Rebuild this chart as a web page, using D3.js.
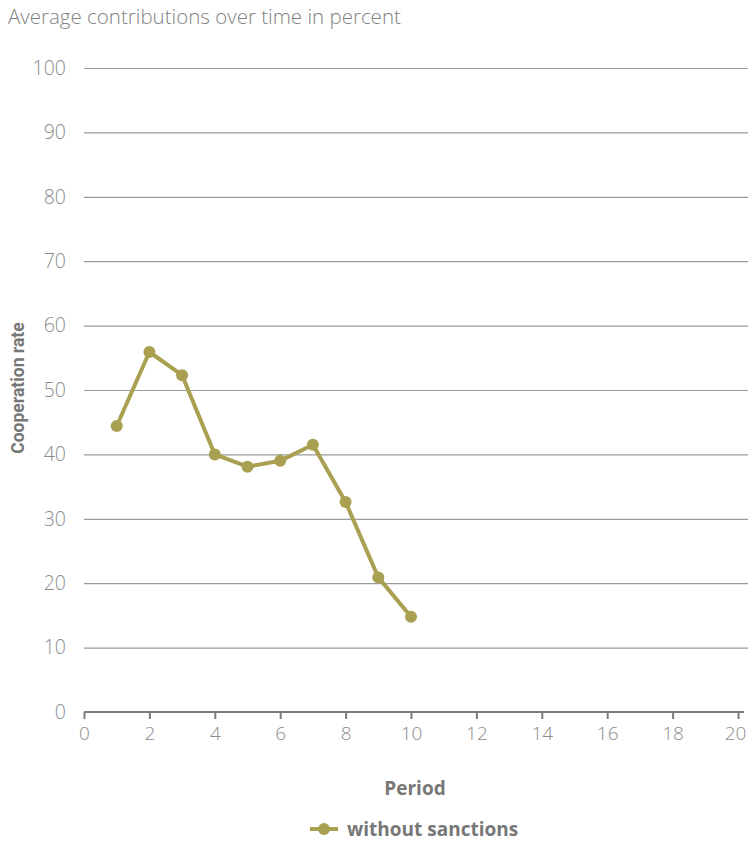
<!DOCTYPE html>
<html>
<head>
<meta charset="utf-8">
<script src="https://cdn.jsdelivr.net/npm/d3@7"></script>
<style>
  html, body { margin: 0; padding: 0; background: #fff; }
  svg { display: block; font-family: "Open Sans", "Noto Sans", sans-serif; }
</style>
</head>
<body>
<svg id="chart" width="748" height="843"></svg>
<script>
// Cooperation rate per period, public goods game without sanctions
const periods = [1, 2, 3, 4, 5, 6, 7, 8, 9, 10];
const withoutSanctions = [44.4, 55.9, 52.3, 40.0, 38.1, 39.0, 41.5, 32.6, 20.9, 14.8];
const yTicks = [0, 10, 20, 30, 40, 50, 60, 70, 80, 90, 100];
const xTicks = [0, 2, 4, 6, 8, 10, 12, 14, 16, 18, 20];
const seriesName = "without sanctions";

const svg = d3.select("#chart");
const W = 748;
const plotBottom = 712;
const font = "'Open Sans', 'Noto Sans', sans-serif";

const x = d3.scaleLinear().domain([0, 20]).range([84, 738]);
const y = d3.scaleLinear().domain([0, 100]).range([plotBottom, 68]);

const textGrey = "#8c8c8c";
const labelGrey = "#777";
const olive = "#aaa052";

// Title
svg.append("text")
  .attr("x", 8).attr("y", 24)
  .attr("font-size", 20.5).attr("font-weight", 300)
  .attr("fill", "#828282")
  .text("Average contributions over time in percent");

// Horizontal gridlines with labels
const yAxis = svg.append("g").attr("transform", `translate(${x(0)},0)`)
  .call(d3.axisLeft(y).tickValues(yTicks.filter(d => d > 0)).tickSize(-(W - x(0))).tickPadding(18));
yAxis.select(".domain").remove();
yAxis.selectAll(".tick line").attr("stroke", "#9a9a9a").attr("stroke-width", 1.2);
yAxis.selectAll(".tick text").attr("font-size", 19.5).attr("font-weight", 300)
  .attr("fill", textGrey).attr("font-family", font);

// Zero label
svg.append("text")
  .attr("x", 66).attr("y", y(0)).attr("dy", "0.35em")
  .attr("text-anchor", "end")
  .attr("font-size", 19.5).attr("font-weight", 300).attr("fill", textGrey)
  .text(yTicks[0]);

// X axis
const xAxis = svg.append("g").attr("transform", `translate(0,${plotBottom})`)
  .call(d3.axisBottom(x).tickValues(xTicks).tickSize(7).tickSizeOuter(0).tickPadding(8));
xAxis.select(".domain").attr("stroke", "#7d7d7d").attr("stroke-width", 2)
  .attr("d", `M${x(0)},0H${x(20) + 6}`);
xAxis.selectAll(".tick line").attr("stroke", "#7d7d7d").attr("stroke-width", 2);
xAxis.selectAll(".tick text").attr("font-size", 19).attr("font-weight", 300)
  .attr("fill", textGrey).attr("font-family", font)
  .attr("dx", d => d === 20 ? -3 : 0);

// Axis titles
svg.append("text")
  .attr("transform", `translate(24,388) rotate(-90)`)
  .attr("text-anchor", "middle")
  .attr("font-family", "Roboto, sans-serif")
  .attr("font-size", 17.5).attr("font-weight", 700).attr("fill", labelGrey)
  .text("Cooperation rate");

svg.append("text")
  .attr("x", 415).attr("y", 795)
  .attr("text-anchor", "middle")
  .attr("font-size", 19).attr("font-weight", 700).attr("fill", labelGrey)
  .text("Period");

// Series
const pts = periods.map((p, i) => ({ p, v: withoutSanctions[i] }));
const line = d3.line().x(d => x(d.p)).y(d => y(d.v));
svg.append("path").datum(pts)
  .attr("d", line)
  .attr("fill", "none").attr("stroke", olive)
  .attr("stroke-width", 4).attr("stroke-linejoin", "round");
svg.selectAll("circle.pt").data(pts).join("circle")
  .attr("class", "pt")
  .attr("cx", d => x(d.p)).attr("cy", d => y(d.v))
  .attr("r", 6).attr("fill", olive);

// Legend
const lg = svg.append("g").attr("transform", "translate(310,829)");
lg.append("line").attr("x1", 0).attr("x2", 28).attr("y1", 0).attr("y2", 0)
  .attr("stroke", olive).attr("stroke-width", 4);
lg.append("circle").attr("cx", 14).attr("cy", 0).attr("r", 6).attr("fill", olive);
lg.append("text").attr("x", 37).attr("y", 0).attr("dy", "0.35em")
  .attr("font-size", 19).attr("font-weight", 700).attr("fill", labelGrey)
  .text(seriesName);
</script>
</body>
</html>
